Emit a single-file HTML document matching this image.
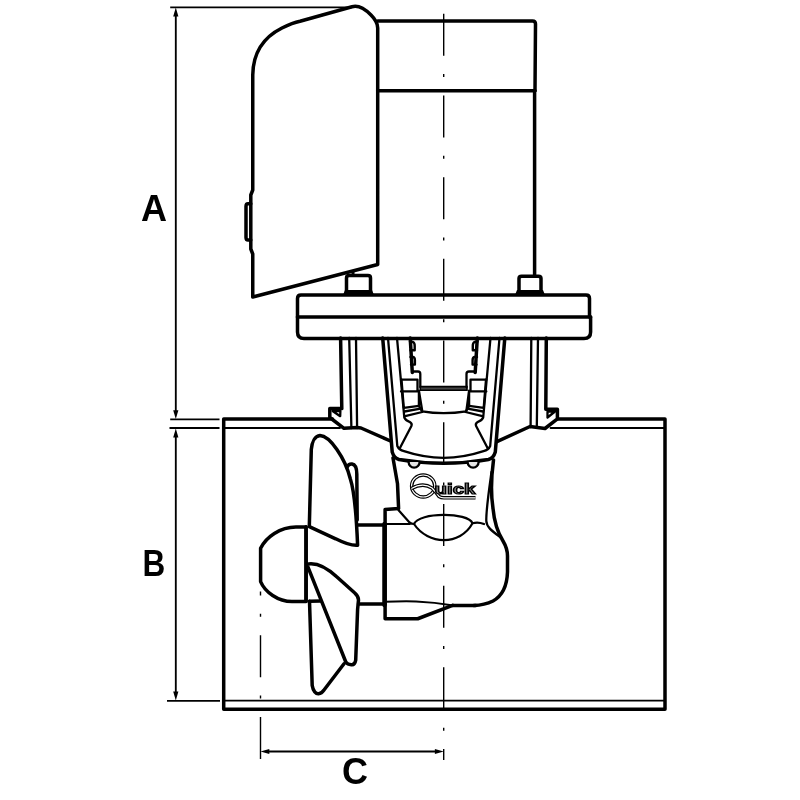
<!DOCTYPE html>
<html><head><meta charset="utf-8">
<style>
html,body{margin:0;padding:0;background:#fff;width:800px;height:800px;overflow:hidden}
svg{display:block;will-change:transform}
.t{fill:none;stroke:#000;stroke-width:3.5;stroke-linejoin:round;stroke-linecap:round}
.m{fill:none;stroke:#000;stroke-width:2.3;stroke-linejoin:round;stroke-linecap:round}
.n{fill:none;stroke:#000;stroke-width:1.85;stroke-linejoin:round}
.c{fill:none;stroke:#000;stroke-width:1.4;stroke-dasharray:42 18.3 3 18.4}
text{font-family:"Liberation Sans",sans-serif;font-weight:bold;font-size:36px;fill:#000}
</style></head>
<body>
<svg width="800" height="800" viewBox="0 0 800 800">
<!-- dimension A -->
<g id="dims">
<line class="n" x1="170.2" y1="7.3" x2="352" y2="7.3"/>
<line class="n" x1="175.8" y1="14" x2="175.8" y2="412"/>
<path d="M175.8 7.5 L173.2 16.5 L178.4 16.5 Z" fill="#000"/>
<path d="M175.8 419 L173.2 410.3 L178.4 410.3 Z" fill="#000"/>
<line class="n" x1="170.2" y1="419.4" x2="219.5" y2="419.4"/>
<line class="n" x1="169.5" y1="428" x2="219.5" y2="428"/>
<line class="n" x1="175.8" y1="436" x2="175.8" y2="694"/>
<path d="M175.8 428.5 L173.2 437.5 L178.4 437.5 Z" fill="#000"/>
<path d="M175.8 700.5 L173.2 691.5 L178.4 691.5 Z" fill="#000"/>
<line class="n" x1="167" y1="700.8" x2="220" y2="700.8"/>
<!-- C -->
<line class="n" x1="266" y1="751.5" x2="438" y2="751.5"/>
<path d="M260.5 751.5 L269.3 749 L269.3 754 Z" fill="#000"/>
<path d="M443.7 751.5 L434.9 749 L434.9 754 Z" fill="#000"/>
<text x="141" y="220.5">A</text>
<text x="142.6" y="576" style="font-size:37.5px" transform="translate(142.6 0) scale(0.84 1) translate(-142.6 0)">B</text>
<text x="342" y="784">C</text>
</g>
<!-- cover -->
<path class="t" d="M252.75 297 L252.75 254 L250.8 249 L250.8 195 L252.75 190 L252.75 75 C253 55 262 38 282 28 C290 24 296 22 300 21.2 L352 6.8 C358 5 365 9 371 15 C376 20 377.7 24 377.7 28 L377.7 264.5 Z"/>
<path class="t" d="M250.8 203.8 L248 203.8 Q246 203.8 246 206.3 L246 237.5 Q246 240 248 240 L250.8 240"/>
<!-- motor -->
<path class="t" d="M377.7 21 L532.5 21 Q535.5 21 535.5 24 L535 90.75"/>
<line class="t" x1="377.7" y1="90.75" x2="535" y2="90.75"/>
<line class="t" x1="534.6" y1="90.75" x2="534.6" y2="276"/>
<!-- nuts -->
<path class="t" d="M353 271.5 L353 275.6" style="stroke-width:3"/>
<path class="t" d="M346.5 292 L346.5 278 Q346.5 275.6 349 275.6 L368 275.6 Q370.5 275.6 370.5 278 L370.5 292"/>
<path d="M343 295 L345 290 L372 290 L374 295 Z" fill="#000"/>
<path class="t" d="M519 292 L519 278.5 Q519 276.3 521.5 276.3 L538.5 276.3 Q541 276.3 541 278.5 L541 292"/>
<path d="M515 295 L517 290 L543 290 L545 295 Z" fill="#000"/>
<!-- flange -->
<path class="t" d="M297.5 317 L297.5 298.5 Q297.5 295 301 295 L586 295 Q589.5 295 589.5 298.5 L589.5 317"/>
<path class="t" d="M297.5 317 L297.5 332 Q297.5 338.5 304 338.5 L584 338.5 Q590.6 338.5 590.6 332 L590.6 317"/>
<line class="t" x1="297.5" y1="317" x2="590.6" y2="317"/>

<!-- legs -->
<path class="t" d="M340.6 338 L341.8 408.6 L329.8 408.6 L329.8 417.5 L344 428.3 L357 427.6 L361 428 L390.5 441"/>
<path class="m" d="M332.6 411 L340.4 410.8 L340.2 416.2 Z"/>
<line class="m" x1="349.2" y1="338" x2="351.4" y2="428"/>
<line class="m" x1="356" y1="338" x2="357.1" y2="428"/>
<path class="t" d="M546.3 338 L545.8 409.3 L557.4 409.3 L557.4 418.9 L545 428.5 L530 426.5 L496.9 441.6"/>
<path class="m" d="M547.5 411.5 L555 411.5 L547.5 417.5 Z"/>
<line class="m" x1="531.3" y1="338" x2="530.6" y2="427"/>
<line class="m" x1="538" y1="338" x2="536.8" y2="427"/>
<!-- housing U -->
<path class="t" d="M382.7 338 L392.2 451.9 Q394 458 399 459.5 Q443.7 467 488.5 459.5 Q493.5 458 495.3 451.9 L504.8 338"/>
<path class="m" d="M388 338 L397.3 446 Q399 450 404 451.2 Q443.7 464.5 483.5 451.2 Q488.5 450 490.2 446 L499.5 338"/>
<path class="m" d="M397 338 L404.3 417.5 Q405.5 420.5 409.5 421.8 Q412.5 423.5 411.4 426 L399.8 448.3"/>
<path class="m" d="M490.5 338 L483.2 417.5 Q482 420.5 478 421.8 Q475 423.5 476.1 426 L487.7 448.3"/>
<!-- coupling -->
<path class="m" d="M410 341.5 L413 342 Q414.8 343 414.7 346 L414.7 350.3 L410.5 350.3 M410.5 356.9 L413 356.9 Q414.9 357.5 414.9 360 L414.9 364.6 L411 364.6" style="stroke-width:2.4"/>
<path class="m" d="M477.5 341.5 L474.5 342 Q472.7 343 472.8 346 L472.8 350.3 L477 350.3 M477 356.9 L474.5 356.9 Q472.6 357.5 472.6 360 L472.6 364.6 L476.5 364.6" style="stroke-width:2.4"/>

<path class="t" d="M410.2 338 L412.3 372.5"/>
<path class="m" d="M412.5 371.5 L418 371.5 Q420.3 371.5 420.3 374 L420.3 387.3"/>
<path class="m" d="M401 379.7 L417.5 379.7 L417.5 391.4 M401 391.4 L418.9 391.4 L418.9 406"/>
<path class="m" d="M401.5 379.7 L403.8 407.9 L418.9 405.8 L422.3 412 L405.1 416.2"/>
<path class="m" d="M404.5 411.5 L420.5 408.6"/>
<path d="M420.3 386.6 L467 386.6 L467 390.2 L420.3 390.2 Z" fill="#444" stroke="#000" stroke-width="1.6"/>
<path class="m" d="M418.9 390.7 L422.3 411.3 Q443 415 466.3 411.3 L469.1 390.7"/>
<path class="t" d="M477.3 338 L475.2 372.5"/>
<path class="m" d="M475.5 371.5 L469 371.5 Q466.5 371.5 466.5 374 L466.5 387.3"/>
<path class="m" d="M486.3 379.7 L470.5 379.7 L470.5 391.4 M486.3 391.4 L469.1 391.4 L469.1 406"/>
<path class="m" d="M486 379.7 L483.7 407.9 L469.1 405.8 L465.5 412 L482.4 416.2"/>
<path class="m" d="M483 411.5 L467.5 408.6"/>

<!-- lower housing / gearbox -->
<path class="t" d="M393 458 L397.5 483.75 L398.6 508.5 L385.1 509.6 L385.1 618.75 L417.75 618.75 L452.6 605.3"/>
<path class="t" d="M493.5 460 C491.5 475 491 495 492.9 507.5 C494 520 498 533 503 541 C506 546 507.5 550 507.5 556 L507.5 572 C507 587 502 596 493 601 C487 604 480 605.3 473.75 605.4"/>
<path class="m" d="M491.5 472 C489 490 486 510 486.3 521 C486.5 527 492 531 500 537"/>
<path class="m" d="M385.1 601.8 C405 601 425 600.5 453.5 605.6" style="stroke-width:2"/>
<path class="t" d="M452.6 605.5 L476 605.5"/>
<path class="m" d="M398.4 510 L409.5 522.5 Q411.5 524 414 524 C419 512 468 512 472.5 523.25 Q478 521.5 484 524" style="stroke-width:2.2"/>
<path class="m" d="M414 524 C428 545 460 546 472.5 523.25" style="stroke-width:2.2"/>
<line class="m" x1="385" y1="524" x2="410" y2="524" style="stroke-width:1.8"/>
<path class="m" d="M408.6 462 A5.5 5.6 0 0 0 419.6 462 M467.6 462 A5.5 5.6 0 0 0 478.6 462" style="fill:#e6e6e6"/>
<!-- quick logo -->
<g>
<ellipse cx="423.2" cy="486" rx="11.6" ry="11" fill="none" stroke="#000" stroke-width="3.5"/>
<ellipse cx="423.2" cy="486" rx="11.6" ry="11" fill="none" stroke="#fff" stroke-width="1.2"/>
<path d="M411.5 488.5 Q423 482 432 488 Q436 492 439 496.5 Q441 497.8 444 497.8 L475.5 497.8" fill="none" stroke="#000" stroke-width="3.5"/>
<path d="M411.5 488.5 Q423 482 432 488 Q436 492 439 496.5 Q441 497.8 444 497.8 L475.5 497.8" fill="none" stroke="#fff" stroke-width="1.2"/>
<text x="434.5" y="494.3" textLength="41" lengthAdjust="spacingAndGlyphs" style="font-size:14.5px;font-weight:bold;fill:#999;stroke:#000;stroke-width:1.2">uick</text>
</g>
<!-- propeller -->
<line class="t" x1="357.6" y1="525" x2="385" y2="525"/>
<line class="t" x1="358.5" y1="604" x2="385" y2="604"/>
<line class="t" x1="384.5" y1="524" x2="384.5" y2="605" style="stroke-width:4.5"/>
<path class="t" d="M306.1 527 L296 527 C280 527 266 537 260.6 548.3 L260.6 581.6 C265 592 278 601.6 292 601.6 L306.1 601.6 Z"/>
<line class="t" x1="306" y1="526.8" x2="306" y2="601.2"/>
<path class="t" d="M309.3 526.6 L311.3 449.4 C312 442 315 436 320 435.6 C330 436 345 458 350.3 478.7 C354 490 356 505 357.6 545.3 C350 546 342 542 335.7 538.8 Z"/>
<path class="t" d="M347 467.3 C348 465 350 463.8 352 464 C355 464.5 356.8 468 356.8 474 L357.2 520"/>
<path class="t" d="M306.8 564.1 C312 563 322 563 336.7 576.8 L354.8 593 C358 596 358.5 598 358.5 600 L357.6 609.4 L355.7 660.2 C355 664 353 665 351.2 664.7 C348 664.5 346.5 663 345.8 662 Z"/>
<path class="t" d="M309.5 601.2 L312.2 685.6 C313 691 316 694 318.6 693.7 C321 693.5 323 691.5 324 690 L344 663.8"/>
<line class="t" x1="309.5" y1="601.2" x2="320.5" y2="601"/>
<line class="c" x1="260.5" y1="591.6" x2="260.5" y2="760" style="stroke-dashoffset:38.1"/>

<!-- tube -->
<path class="t" d="M332.5 419 L223.7 419 L223.7 709.2 L665 709.2 L665 419 L557.5 419"/>
<line class="m" x1="224" y1="428" x2="340" y2="428" style="stroke-width:1.8"/>
<line class="m" x1="550.5" y1="428" x2="664" y2="428" style="stroke-width:1.8"/>
<line class="m" x1="224" y1="700.6" x2="664" y2="700.6" style="stroke-width:1.8"/>
<!-- center lines -->
<line class="c" x1="443.7" y1="13.75" x2="443.7" y2="760"/>
</svg>
</body></html>
